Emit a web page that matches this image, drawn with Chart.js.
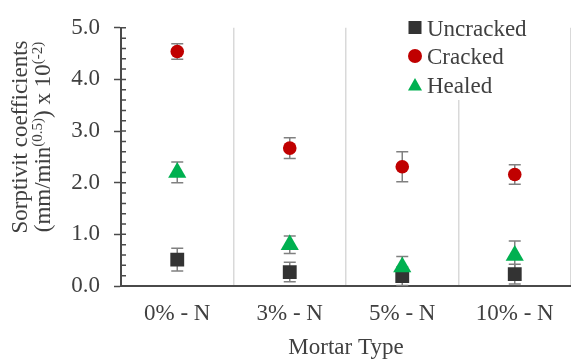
<!DOCTYPE html>
<html>
<head>
<meta charset="utf-8">
<script src="https://cdn.jsdelivr.net/npm/chart.js@4.4.0/dist/chart.umd.min.js"></script>
<style>
  html, body { margin: 0; padding: 0; background: #fff; }
  #chart { display: block; }
</style>
</head>
<body>
<canvas id="chart" width="571" height="363"></canvas>
<script>
// values
const mortarTypes = ["0% - N", "3% - N", "5% - N", "10% - N"];
const uncracked = [0.51, 0.27, 0.19, 0.23];
const uncrackedErr = [0.22, 0.19, 0.18, 0.19];
const cracked = [4.54, 2.67, 2.31, 2.16];
const crackedErr = [0.15, 0.20, 0.29, 0.19];
const healed = [2.20, 0.80, 0.37, 0.59];
const healedErr = [0.20, 0.17, 0.20, 0.28];
const yTicks = [0, 1, 2, 3, 4, 5];

const serif = "'Liberation Serif', 'Times New Roman', serif";
const textColor = "#404040";
const axisColor = "#4a4a4a";
const gridColor = "#d9d9d9";
const errColor = "#808080";

// error bars, drawn under the markers
const errorBars = {
  id: "errorBars",
  beforeDatasetsDraw(chart) {
    const ctx = chart.ctx;
    const y = chart.scales.y;
    ctx.save();
    ctx.strokeStyle = errColor;
    ctx.lineWidth = 1.5;
    chart.data.datasets.forEach((ds, i) => {
      const meta = chart.getDatasetMeta(i);
      meta.data.forEach((pt, j) => {
        const top = y.getPixelForValue(ds.data[j] + ds.errorBars[j]);
        const bot = y.getPixelForValue(ds.data[j] - ds.errorBars[j]);
        ctx.beginPath();
        ctx.moveTo(pt.x, top); ctx.lineTo(pt.x, bot);
        ctx.moveTo(pt.x - 6, top); ctx.lineTo(pt.x + 6, top);
        ctx.moveTo(pt.x - 6, bot); ctx.lineTo(pt.x + 6, bot);
        ctx.stroke();
      });
    });
    ctx.restore();
  }
};

// inner major ticks and minor ticks on the y axis
const yMinorTicks = {
  id: "yMinorTicks",
  afterDraw(chart) {
    const ctx = chart.ctx;
    const y = chart.scales.y;
    const x0 = chart.chartArea.left;
    ctx.save();
    ctx.strokeStyle = axisColor;
    ctx.lineWidth = 1.5;
    ctx.beginPath();
    for (let k = 0; k <= 25; k++) {
      const py = y.getPixelForValue(k * 0.2);
      ctx.moveTo(x0, py);
      ctx.lineTo(x0 + 5, py);
    }
    ctx.stroke();
    ctx.restore();
  }
};

// two line y title with superscripts
const yTitle = {
  id: "yTitle",
  afterDraw(chart) {
    const ctx = chart.ctx;
    const cy = 137;
    const lines = [
      { base: 27, runs: [["Sorptivit coefficients", 23, 0]] },
      { base: 50, runs: [["(mm/min", 23, 0], ["(0.5)", 15, 8], [") x 10", 23, 0], ["(-2)", 15, 8]] }
    ];
    ctx.save();
    ctx.fillStyle = textColor;
    ctx.textBaseline = "alphabetic";
    ctx.textAlign = "left";
    lines.forEach(line => {
      let total = 0;
      line.runs.forEach(r => { ctx.font = r[1] + "px " + serif; r.w = ctx.measureText(r[0]).width; total += r.w; });
      ctx.save();
      ctx.translate(line.base, cy);
      ctx.rotate(-Math.PI / 2);
      let x = -total / 2;
      line.runs.forEach(r => {
        ctx.font = r[1] + "px " + serif;
        ctx.fillText(r[0], x, -r[2]);
        x += r.w;
      });
      ctx.restore();
    });
    ctx.restore();
  }
};

// legend in the top right corner of the plot
const cornerLegend = {
  id: "cornerLegend",
  afterDraw(chart) {
    const ctx = chart.ctx;
    ctx.save();
    ctx.fillStyle = "#fff";
    ctx.fillRect(402, 8, 140, 92);
    chart.data.datasets.forEach((ds, i) => {
      const cy = 27.5 + i * 28.5;
      const cx = 415;
      ctx.fillStyle = ds.backgroundColor;
      ctx.beginPath();
      if (ds.pointStyle === "rect") {
        ctx.rect(cx - 6.5, cy - 6.5, 13, 13);
      } else if (ds.pointStyle === "circle") {
        ctx.arc(cx, cy, 7, 0, Math.PI * 2);
      } else {
        ctx.moveTo(cx, cy - 6.5);
        ctx.lineTo(cx + 7, cy + 6);
        ctx.lineTo(cx - 7, cy + 6);
        ctx.closePath();
      }
      ctx.fill();
      ctx.fillStyle = textColor;
      ctx.font = "23px " + serif;
      ctx.textBaseline = "alphabetic";
      ctx.fillText(ds.label, 427, cy + 8);
    });
    ctx.restore();
  }
};

const font = { family: serif, size: 23 };

new Chart(document.getElementById("chart"), {
  type: "line",
  data: {
    labels: mortarTypes,
    datasets: [
      { label: "Uncracked", data: uncracked, errorBars: uncrackedErr, pointStyle: "rect",
        pointRadius: 9.8, backgroundColor: "#333333", order: 3 },
      { label: "Cracked", data: cracked, errorBars: crackedErr, pointStyle: "circle",
        pointRadius: 6.8, backgroundColor: "#c00000", order: 2 },
      { label: "Healed", data: healed, errorBars: healedErr, pointStyle: "triangle",
        pointRadius: 10.5, backgroundColor: "#00b050", order: 1 }
    ].map(d => Object.assign(d, { showLine: false, borderWidth: 0, borderColor: d.backgroundColor }))
  },
  options: {
    responsive: false,
    animation: false,
    devicePixelRatio: 1,
    layout: { autoPadding: false, padding: { left: 0, top: 17, right: 0, bottom: 0 } },
    plugins: { legend: { display: false }, tooltip: { enabled: false } },
    scales: {
      x: {
        type: "category",
        offset: true,
        afterFit: s => { s.height = 77; },
        grid: {
          offset: true, drawTicks: false, lineWidth: 1.5,
          color: c => (c.index === 0 ? "rgba(0,0,0,0)" : gridColor)
        },
        border: { color: axisColor, width: 2 },
        ticks: { padding: 14, color: textColor, font: font },
        title: { display: true, text: "Mortar Type", color: textColor, font: font, padding: { top: 0, bottom: 1 } }
      },
      y: {
        min: 0,
        max: 5,
        afterBuildTicks: s => { s.ticks = yTicks.map(v => ({ value: v })); },
        afterFit: s => { s.width = 121; },
        grid: { drawOnChartArea: false, drawTicks: true, tickLength: 7, tickColor: axisColor, tickWidth: 1.5 },
        border: { color: axisColor, width: 2 },
        ticks: { padding: 14, color: textColor, font: font, callback: v => v.toFixed(1) }
      }
    }
  },
  plugins: [errorBars, yMinorTicks, yTitle, cornerLegend]
});
</script>
</body>
</html>
